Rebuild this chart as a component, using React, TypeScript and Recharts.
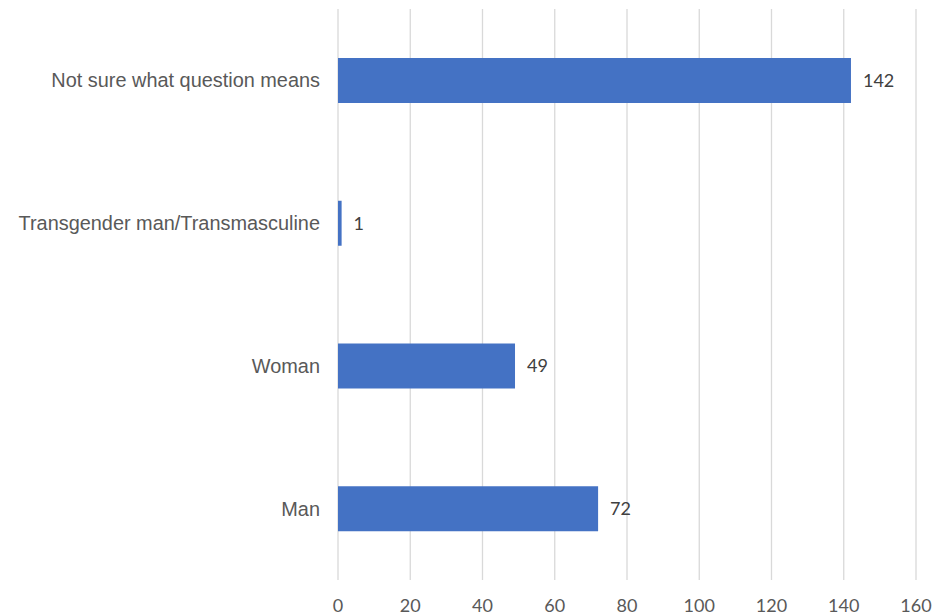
import React from 'react';
import { BarChart, Bar, XAxis, YAxis, CartesianGrid, LabelList } from 'recharts';

// categories listed top to bottom as they appear in the chart
const categories = [
  'Not sure what question means',
  'Transgender man/Transmasculine',
  'Woman',
  'Man',
];
const counts = [142, 1, 49, 72];
const xTicks = [0, 20, 40, 60, 80, 100, 120, 140, 160];

const data = categories.map((name, i) => ({ name, count: counts[i] }));

const App: React.FC = () => {
  return (
    <div style={{ position: 'absolute', left: 0, top: 0, width: 951, height: 616, background: '#fff' }}>
      <BarChart
        width={951}
        height={616}
        data={data}
        layout="vertical"
        margin={{ top: 9, right: 35, bottom: 0, left: 0 }}
      >
        <CartesianGrid horizontal={false} stroke="#d9d9d9" strokeWidth={1.3} />
        <XAxis
          type="number"
          domain={[0, 160]}
          ticks={xTicks}
          axisLine={false}
          tickLine={false}
          tickSize={0}
          tickMargin={19}
          height={36}
          interval={0}
          tick={{ fill: '#595959', fontSize: 18, fontFamily: 'Lato' }}
        />
        <YAxis
          type="category"
          dataKey="name"
          width={338}
          axisLine={false}
          tickLine={false}
          tickSize={0}
          tickMargin={18}
          interval={0}
          tick={{ fill: '#595959', fontSize: 19.9, fontFamily: 'Liberation Sans' }}
        />
        <Bar dataKey="count" fill="#4472c4" barSize={45} isAnimationActive={false}>
          <LabelList
            dataKey="count"
            position="right"
            offset={12}
            fill="#404040"
            fontSize={18}
            fontFamily="Lato"
          />
        </Bar>
      </BarChart>
    </div>
  );
};

export default App;
